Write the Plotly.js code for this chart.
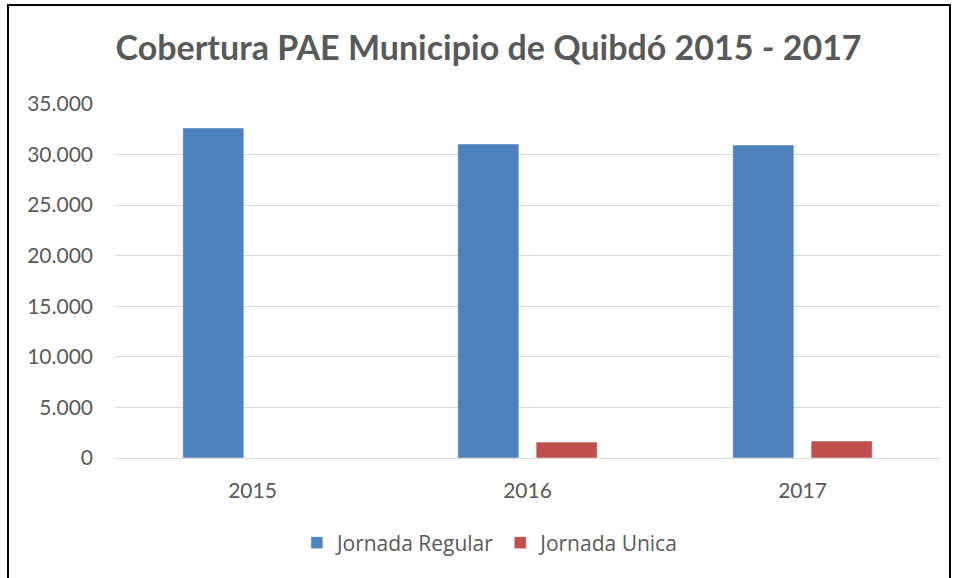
<!DOCTYPE html>
<html>
<head>
<meta charset="utf-8">
<script src="https://cdn.plot.ly/plotly-3.0.1.min.js"></script>
<style>
  html, body { margin: 0; padding: 0; background: #ffffff; }
  #chart { width: 958px; height: 578px; }
</style>
</head>
<body>
<div id="chart"></div>
<script>
const years = ['2015', '2016', '2017'];
const jornadaRegular = [32630, 31050, 30950];
const jornadaUnica = [0, 1580, 1680];
const seriesNames = ['Jornada Regular', 'Jornada Unica'];
const yTicks = [0, 5000, 10000, 15000, 20000, 25000, 30000, 35000];

const font = 'Lato, "Open Sans", sans-serif';
const legendFont = '"Open Sans", "Noto Sans", sans-serif';

const traces = [
  {
    type: 'bar', name: seriesNames[0], x: years, y: jornadaRegular,
    marker: { color: '#4f81bd', line: { color: 'rgba(255,255,255,0.5)', width: 1 } },
    hoverinfo: 'skip'
  },
  {
    type: 'bar', name: seriesNames[1], x: years, y: jornadaUnica,
    marker: { color: '#c0504d', line: { color: 'rgba(255,255,255,0.5)', width: 1 } },
    hoverinfo: 'skip'
  }
];

const layout = {
  width: 958, height: 578,
  margin: { l: 115, r: 18, t: 104, b: 120 },
  paper_bgcolor: '#ffffff', plot_bgcolor: '#ffffff',
  separators: ',.',
  barmode: 'group', bargap: 0.43, bargroupgap: 0.22,
  title: {
    text: '<b>Cobertura PAE Municipio de Quibdó 2015 - 2017</b>',
    font: { family: font, size: 34, color: '#595959' },
    xref: 'container', x: 0.51, xanchor: 'center',
    yref: 'container', y: 1 - 48 / 578, yanchor: 'middle'
  },
  xaxis: {
    type: 'category', showgrid: false, showline: true, linecolor: '#d9d9d9', linewidth: 1,
    ticks: '', tickfont: { family: font, size: 21, color: '#595959' },
    ticklabelstandoff: 14
  },
  yaxis: {
    range: [0, 35000], tickvals: yTicks, tickformat: ',d',
    showgrid: true, gridcolor: '#d9d9d9', gridwidth: 1,
    zeroline: true, zerolinecolor: '#d9d9d9', zerolinewidth: 1,
    showline: false, ticks: '',
    tickfont: { family: font, size: 21, color: '#595959' },
    ticklabelstandoff: 21
  },
  legend: {
    orientation: 'h', xref: 'paper', x: 0.455, xanchor: 'center',
    yref: 'paper', y: (458 - 543) / 354, yanchor: 'middle',
    font: { family: legendFont, size: 21, color: '#595959' },
    itemwidth: 30, traceorder: 'normal'
  },
  showlegend: true,
  shapes: [
    {
      type: 'rect', xref: 'paper', yref: 'paper',
      x0: (8 - 115) / 825, x1: (950 - 115) / 825,
      y0: (458 - 600) / 354, y1: (458 - 5) / 354,
      line: { color: '#000000', width: 2 }, fillcolor: 'rgba(0,0,0,0)', layer: 'below'
    }
  ]
};

Plotly.newPlot('chart', traces, layout, { displayModeBar: false, staticPlot: true });
</script>
</body>
</html>
